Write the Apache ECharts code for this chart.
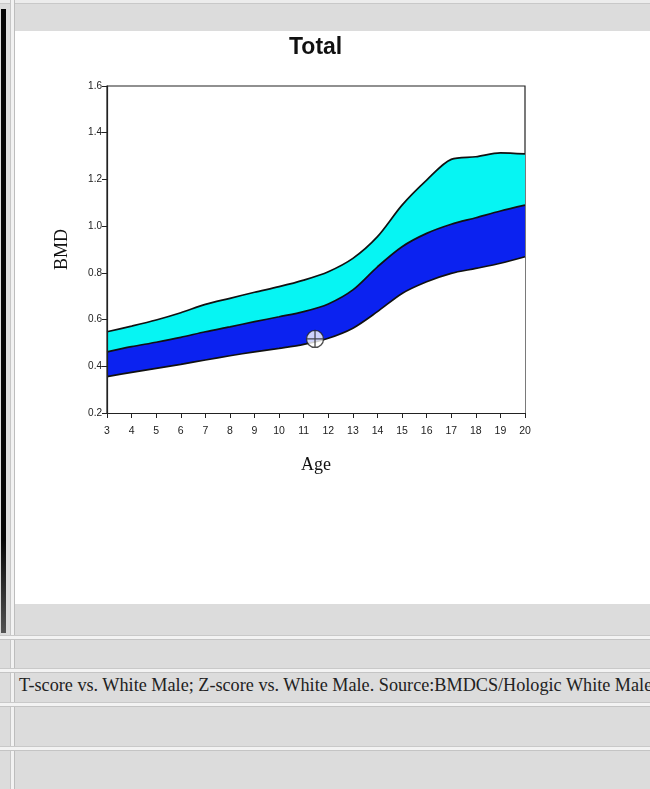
<!DOCTYPE html>
<html>
<head>
<meta charset="utf-8">
<script src="https://cdn.jsdelivr.net/npm/echarts@6/dist/echarts.min.js"></script>
<style>
  html, body { margin:0; padding:0; width:650px; height:789px; overflow:hidden; background:#dcdcdc; }
  .abs { position:absolute; }
  .hline { position:absolute; left:0; width:650px; height:3px; background:#f3f3f3; border-bottom:1px solid #c4c4c4; border-top:1px solid #c9c9c9; }
  #chart { position:absolute; left:0; top:0; width:650px; height:789px; }
  #note { position:absolute; left:19px; top:675px; white-space:nowrap; font-family:"Liberation Serif","DejaVu Serif",serif; font-size:18.2px; color:#222; }
</style>
</head>
<body>
<div class="abs" style="left:0;top:0;width:650px;height:3px;background:#ececec;border-bottom:1px solid #c8c8c8"></div>
<div class="abs" style="left:1px;top:9px;width:5px;height:624px;background:linear-gradient(#050505 85%, #555)"></div>
<div class="abs" style="left:10px;top:0;width:3px;height:789px;background:#f2f2f2;border-left:1px solid #c6c6c6;border-right:1px solid #bdbdbd"></div>
<div class="abs" style="left:15px;top:31px;width:635px;height:573px;background:#ffffff"></div>
<div class="hline" style="top:635px"></div>
<div class="hline" style="top:668px"></div>
<div class="hline" style="top:702px"></div>
<div class="hline" style="top:746px"></div>
<div id="note">T-score vs. White Male; Z-score vs. White Male. Source:BMDCS/Hologic White Male</div>
<div id="chart"></div>
<script>
// Data
var ages   = [3,4,5,6,7,8,9,10,11,12,13,14,15,16,17,18,19,20];
var lower  = [0.356,0.374,0.391,0.408,0.427,0.445,0.462,0.477,0.494,0.520,0.563,0.634,0.712,0.762,0.798,0.819,0.841,0.869];
var middle = [0.462,0.484,0.503,0.524,0.548,0.569,0.591,0.612,0.634,0.667,0.727,0.826,0.912,0.969,1.008,1.036,1.065,1.090];
var upper  = [0.548,0.572,0.598,0.629,0.665,0.691,0.717,0.741,0.769,0.805,0.862,0.955,1.090,1.197,1.286,1.297,1.314,1.309];
var patient = [[11.46, 0.517]];
var yTicks = ['0.2','0.4','0.6','0.8','1.0','1.2','1.4','1.6'];

function pts(arr){ return ages.map(function(a,i){ return [a, arr[i]]; }); }

var chart = echarts.init(document.getElementById('chart'), null, {renderer:'canvas'});
var lineStyle = {color:'#111', width:1.7};
chart.setOption({
  backgroundColor:'transparent',
  animation:false,
  graphic:[{
    type:'text', left:289, top:36,
    style:{text:'Total', fontFamily:'Liberation Sans, Arial, sans-serif', fontSize:23, fontWeight:'bold', fill:'#111'}
  }],
  grid:{left:107, right:125, top:86, bottom:376, show:true, borderColor:'#222', borderWidth:1.2, backgroundColor:'#fff'},
  xAxis:{
    type:'value', min:3, max:20, interval:1, z:10,
    name:'Age', nameLocation:'middle', nameGap:43,
    nameTextStyle:{fontFamily:'Liberation Serif, Times New Roman, serif', fontSize:18, color:'#111'},
    axisLine:{lineStyle:{color:'#222', width:1.2}},
    axisTick:{length:5, lineStyle:{color:'#222'}},
    axisLabel:{fontFamily:'Liberation Sans, Arial, sans-serif', fontSize:10.5, color:'#222', margin:13},
    splitLine:{show:false}
  },
  yAxis:{
    type:'value', min:0.2, max:1.6, interval:0.2, z:10,
    name:'BMD', nameLocation:'middle', nameGap:36, nameRotate:90,
    nameTextStyle:{fontFamily:'Liberation Serif, Times New Roman, serif', fontSize:18, color:'#111'},
    axisLine:{lineStyle:{color:'#222', width:1.2}},
    axisTick:{length:5, lineStyle:{color:'#222'}},
    axisLabel:{fontFamily:'Liberation Sans, Arial, sans-serif', fontSize:10, color:'#222', margin:5,
      formatter:function(v){ var s=v.toFixed(1); return yTicks.indexOf(s)>=0 ? s : ''; }},
    splitLine:{show:false}
  },
  series:[
    {type:'line', data:pts(upper), smooth:0.3, symbol:'none', lineStyle:lineStyle, areaStyle:{color:'#06f5f3', opacity:1, origin:'start'}, z:1},
    {type:'line', data:pts(middle), smooth:0.3, symbol:'none', lineStyle:lineStyle, areaStyle:{color:'#0b22f0', opacity:1, origin:'start'}, z:2},
    {type:'line', data:pts(lower), smooth:0.3, symbol:'none', lineStyle:lineStyle, areaStyle:{color:'#ffffff', opacity:1, origin:'start'}, z:3},
    {type:'scatter', data:patient, symbol:'path://M0,-10A10,10 0 1,1 0,10A10,10 0 1,1 0,-10Z M0,-10L0,10M-10,0L10,0',
     symbolSize:17, itemStyle:{color:'#ffffff', borderColor:'#222', borderWidth:1.3}, z:5}
  ]
});
</script>
</body>
</html>
